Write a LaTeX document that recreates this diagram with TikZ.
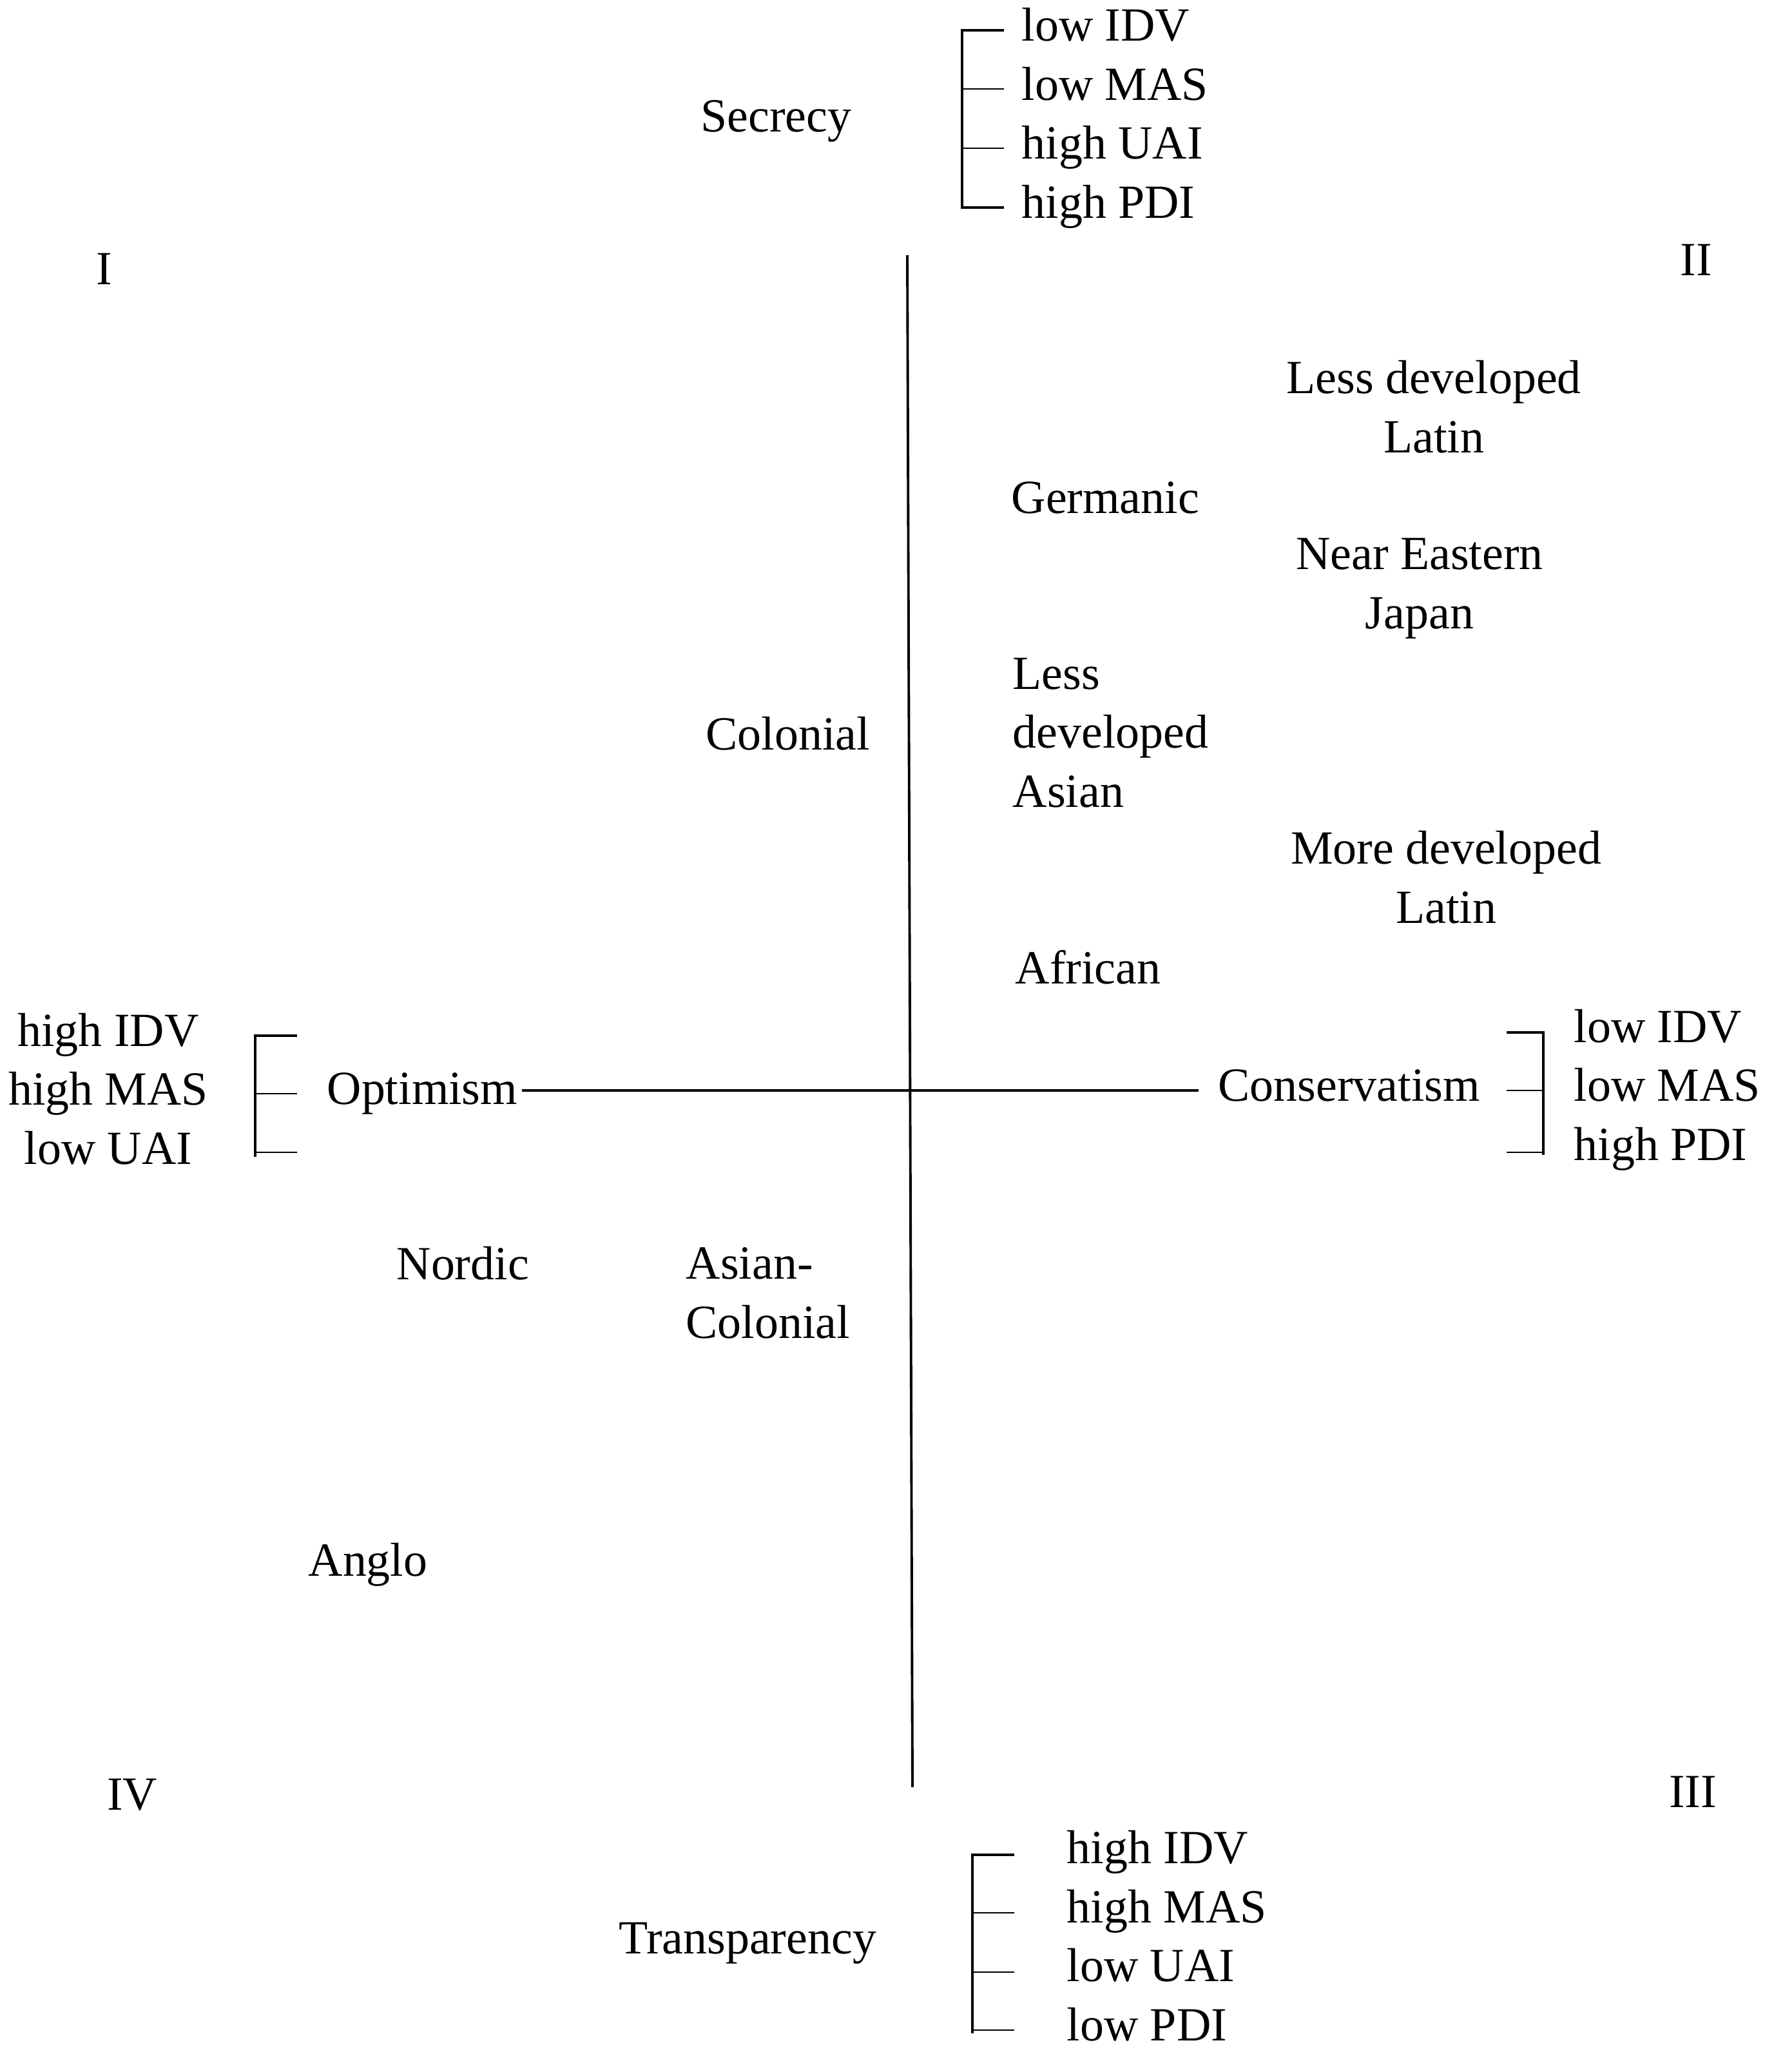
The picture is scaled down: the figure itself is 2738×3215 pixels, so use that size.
\documentclass[tikz,border=0pt]{standalone}
\usepackage{fontspec}
\setmainfont{Liberation Serif}
\begin{document}
\begin{tikzpicture}[x=0.01cm, y=-0.01cm,
  lbl/.style={inner sep=0pt, font=\fontsize{21}{26}\selectfont},
  lw/.style={lbl, anchor=base west},
  lc/.style={lbl, anchor=base},
  axis/.style={line width=1.1pt},
  brace/.style={line width=1.2pt},
  tick/.style={line width=0.7pt}]
% canvas
\useasboundingbox (0,0) rectangle (2738,3215);

% quadrant numbers
\node[lc] (q1) at (162,441) {I};
\node[lc] (q2) at (2632,427) {II};
\node[lc] (q3) at (2627,2804) {III};
\node[lc] (q4) at (205,2808) {IV};

% axes
\coordinate (vtop) at (1408,396);
\coordinate (vbot) at (1416,2773);
\coordinate (hleft) at (810,1692);
\coordinate (hright) at (1860,1692);
\draw[axis] (vtop) -- (vbot);
\draw[axis] (hleft) -- (hright);

% pole labels
\node[lw] (secrecy) at (1087,205) {Secrecy};
\node[lw] (transp) at (960,3031) {Transparency};
\node[lw] (optim) at (507,1713) {Optimism};
\node[lw] (conserv) at (1890,1708) {Conservatism};

% multi-line nodes are anchored at the baseline of their last line
% top list
\node[lw, align=left] (toplist) at (1585,338) {low IDV\\low MAS\\high UAI\\high PDI};
\draw[brace] (1558,47) -- (1493,47) -- (1493,322) -- (1558,322);
\draw[tick] (1493,138) -- (1558,138);
\draw[tick] (1493,230) -- (1558,230);

% bottom list
\node[lw, align=left] (botlist) at (1655,3166) {high IDV\\high MAS\\low UAI\\low PDI};
\draw[brace] (1574,2878) -- (1509,2878) -- (1509,3155);
\draw[tick] (1509,3150) -- (1574,3150);
\draw[tick] (1509,2968) -- (1574,2968);
\draw[tick] (1509,3060) -- (1574,3060);

% left list
\node[lc, align=center] (leftlist) at (168,1806) {high IDV\\high MAS\\low UAI};
\draw[brace] (461,1607) -- (396,1607) -- (396,1795);
\draw[tick] (396,1788) -- (461,1788);
\draw[tick] (396,1697) -- (461,1697);

% right list
\node[lw, align=left] (rightlist) at (2442,1800) {low IDV\\low MAS\\high PDI};
\draw[brace] (2338,1602) -- (2395,1602) -- (2395,1792);
\draw[tick] (2338,1788) -- (2395,1788);
\draw[tick] (2338,1692) -- (2395,1692);

% country clusters
\node[lc, align=center] (ldlatin) at (2225,702) {Less developed\\Latin};
\node[lw] (germanic) at (1569,796) {Germanic};
\node[lc, align=center] (neareast) at (2203,975) {Near Eastern\\Japan};
\node[lw, align=left] (ldasian) at (1571,1252) {Less\\developed\\Asian};
\node[lw] (colonial) at (1095,1163) {Colonial};
\node[lc, align=center] (mdlatin) at (2244,1432) {More developed\\Latin};
\node[lw] (african) at (1575,1526) {African};
\node[lw] (nordic) at (615,1985) {Nordic};
\node[lw, align=left] (asiancol) at (1064,2076) {Asian-\\Colonial};
\node[lw] (anglo) at (478,2445) {Anglo};
\end{tikzpicture}
\end{document}
